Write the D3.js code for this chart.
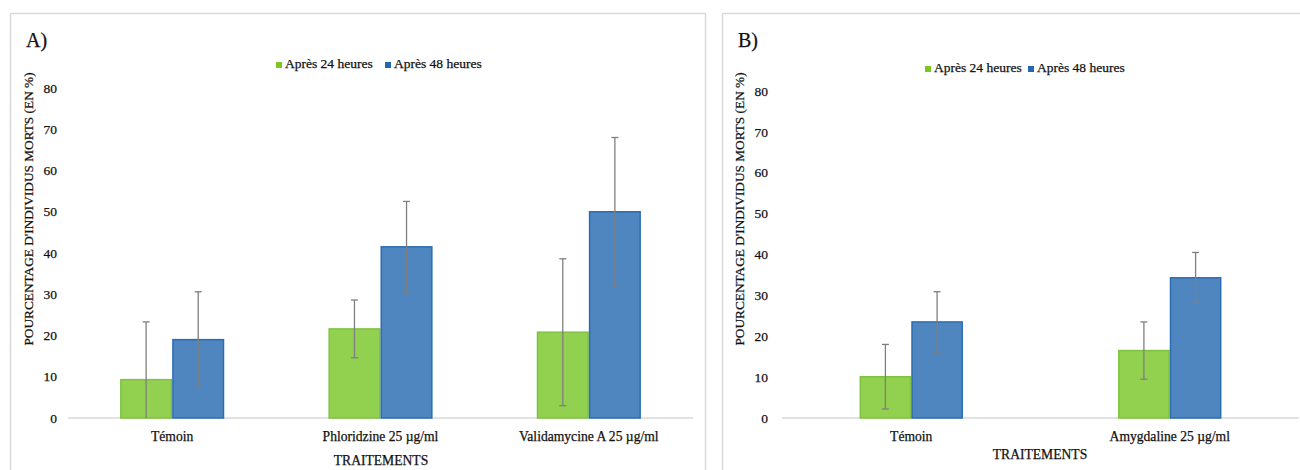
<!DOCTYPE html>
<html>
<head>
<meta charset="utf-8">
<script src="https://cdn.jsdelivr.net/npm/d3@7"></script>
<style>
  body { margin: 0; background: #fff; }
  svg text { font-family: "Liberation Serif", "Times New Roman", serif; fill: #111; stroke: #111; stroke-width: 0.25px; }
</style>
</head>
<body>
<svg id="chart" width="1300" height="470"></svg>
<script>
// series + data
const seriesNames = ["Après 24 heures", "Après 48 heures"];
const yTicks = [0, 10, 20, 30, 40, 50, 60, 70, 80];

const catsA = ["Témoin", "Phloridzine 25 µg/ml", "Validamycine A 25 µg/ml"];
const mean24A = [9.3, 21.6, 20.8];
const err24A = [14, 7, 17.8];
const mean48A = [19, 41.5, 50];
const err48A = [11.6, 11, 18];

const catsB = ["Témoin", "Amygdaline 25 µg/ml"];
const mean24B = [10.1, 16.5];
const err24B = [7.9, 7];
const mean48B = [23.5, 34.3];
const err48B = [7.4, 6.2];

const barFill = ["#92d050", "#4f86c0"];
const barStroke = ["#80c240", "#2a6db3"];
const keyFill = ["#7dc61e", "#2468b2"];

const svg = d3.select("#chart");

function drawPanel(p) {
  const g = svg.append("g");

  // panel frame (runs off the bottom / right of the picture)
  g.append("rect")
    .attr("x", p.frame[0]).attr("y", p.frame[1])
    .attr("width", p.frame[2]).attr("height", p.frame[3])
    .attr("fill", "none").attr("stroke", "#d9d9d9").attr("stroke-width", 1.5);

  g.append("text").attr("x", p.labelX).attr("y", 47)
    .style("font-size", "20px").text(p.label);

  const y = d3.scaleLinear().domain([0, 80]).range([418, p.yTop]);
  const x0 = d3.scaleBand().domain(p.cats).range(p.xRange)
    .paddingInner(p.padIn).paddingOuter(p.padOut);
  const x1 = d3.scaleBand().domain(seriesNames).range([0, x0.bandwidth()]);

  // y tick labels
  g.selectAll(".ytick").data(yTicks).enter().append("text")
    .attr("x", p.tickX).attr("y", d => y(d)).attr("dy", "0.35em")
    .attr("text-anchor", "end").style("font-size", "13.5px")
    .text(d => d);

  // baseline
  g.append("line")
    .attr("x1", p.xRange[0]).attr("x2", p.xRange[1])
    .attr("y1", y(0)).attr("y2", y(0))
    .attr("stroke", "#d9d9d9").attr("stroke-width", 1.5);

  const rows = [];
  p.cats.forEach((c, i) => {
    rows.push({ cat: c, s: 0, v: p.m24[i], e: p.e24[i] });
    rows.push({ cat: c, s: 1, v: p.m48[i], e: p.e48[i] });
  });

  g.selectAll(".bar").data(rows).enter().append("rect")
    .attr("x", d => x0(d.cat) + x1(seriesNames[d.s]) + 0.75)
    .attr("y", d => y(d.v))
    .attr("width", x1.bandwidth() - 1.5)
    .attr("height", d => y(0) - y(d.v))
    .attr("fill", d => barFill[d.s])
    .attr("stroke", d => barStroke[d.s])
    .attr("stroke-width", 1.5);

  // error bars (clipped at the axis like Excel)
  const cx = d => x0(d.cat) + x1(seriesNames[d.s]) + x1.bandwidth() / 2;
  rows.forEach(d => {
    const hi = d.v + d.e, lo = Math.max(0, d.v - d.e);
    const c = cx(d);
    g.append("line").attr("x1", c).attr("x2", c)
      .attr("y1", y(hi)).attr("y2", y(lo))
      .attr("stroke", "#7f7f7f").attr("stroke-width", 1.3);
    g.append("line").attr("x1", c - 3.5).attr("x2", c + 3.5)
      .attr("y1", y(hi)).attr("y2", y(hi))
      .attr("stroke", "#7f7f7f").attr("stroke-width", 1.3);
    if (d.v - d.e > 0) {
      g.append("line").attr("x1", c - 3.5).attr("x2", c + 3.5)
        .attr("y1", y(lo)).attr("y2", y(lo))
        .attr("stroke", "#7f7f7f").attr("stroke-width", 1.3);
    }
  });

  // category labels
  g.selectAll(".cat").data(p.cats).enter().append("text")
    .attr("x", d => x0(d) + x0.bandwidth() / 2).attr("y", 441)
    .attr("text-anchor", "middle").style("font-size", "13.6px")
    .text(d => d);

  g.append("text").attr("x", p.xTitle[0]).attr("y", p.xTitle[1])
    .attr("text-anchor", "middle").style("font-size", "13.6px")
    .text("TRAITEMENTS");

  g.append("text")
    .attr("transform", `translate(${p.yTitleX},209) rotate(-90)`)
    .attr("text-anchor", "middle").style("font-size", "13.3px")
    .text("POURCENTAGE D'INDIVIDUS MORTS (EN %)");

  // legend
  seriesNames.forEach((s, i) => {
    g.append("rect").attr("x", p.keyX[i]).attr("y", p.keyY - 6)
      .attr("width", 6).attr("height", 6).attr("fill", keyFill[i]);
    g.append("text").attr("x", p.keyX[i] + 9).attr("y", p.keyY)
      .style("font-size", "13.5px").text(s);
  });
}

drawPanel({
  label: "A)", labelX: 26, frame: [10.5, 13.5, 695, 480],
  cats: catsA, m24: mean24A, e24: err24A, m48: mean48A, e48: err48A,
  xRange: [68, 693], padIn: 0.5, padOut: 0.25, yTop: 88,
  tickX: 57, yTitleX: 33, xTitle: [381, 465],
  keyX: [276, 385], keyY: 68
});

drawPanel({
  label: "B)", labelX: 738, frame: [722.5, 13.5, 600, 480],
  cats: catsB, m24: mean24B, e24: err24B, m48: mean48B, e48: err48B,
  xRange: [782, 1299], padIn: 0.6, padOut: 0.3, yTop: 91,
  tickX: 768, yTitleX: 744, xTitle: [1040, 459],
  keyX: [925, 1028], keyY: 72
});
</script>
</body>
</html>
